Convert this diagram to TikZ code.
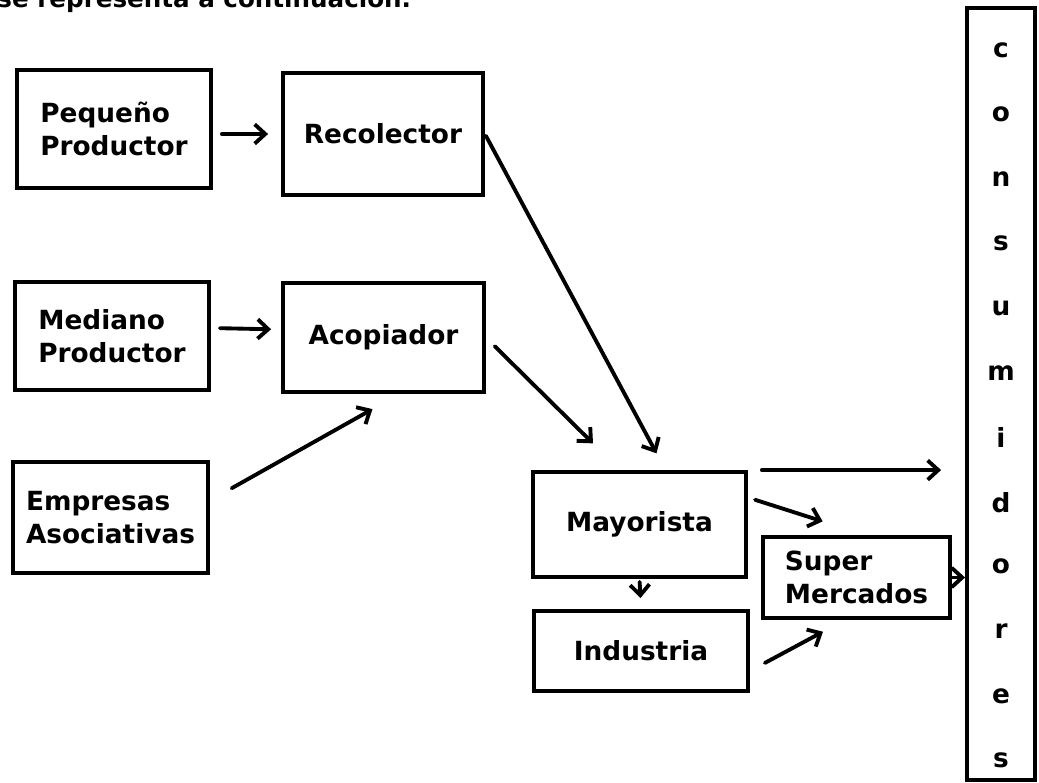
\documentclass[tikz,border=0pt]{standalone}
\usepackage{fontspec}
\setmainfont{DejaVu Sans}
\usetikzlibrary{arrows.meta}

\begin{document}
\begin{tikzpicture}[>={Straight Barb[length=6pt,width=11pt]},x=0.02cm,y=-0.02cm,line width=2.2pt,
    caja/.style={draw,inner sep=0pt,align=left,font=\fontsize{15}{19}\selectfont\bfseries},
    letra/.style={inner sep=0pt,font=\fontsize{15}{19}\selectfont\bfseries},
    flecha/.style={->,line cap=round}]
    \useasboundingbox (0,0) rectangle (1039,783);
    %\draw [color=gray,dash pattern=on 0.7pt off 1pt,step=1cm] (0,0) grid (1039,783);
    \begin{scope}
        \clip (0,0) rectangle (1039,783);
        \node[letra,font=\fontsize{14}{17}\selectfont\bfseries,anchor=base east] (intro) at (413,8) {se representa a continuación.};
    \end{scope}
    \node[caja,minimum width=3.88cm,minimum height=2.36cm] (peq) at (114,129) {Pequeño\\Productor};
    \node[caja,minimum width=4.00cm,minimum height=2.44cm] (rec) at (383,134) {Recolector};
    \node[caja,minimum width=3.88cm,minimum height=2.16cm] (med) at (112,336) {Mediano\\Productor};
    \node[caja,minimum width=4.02cm,minimum height=2.18cm] (aco) at (383.5,337.5) {Acopiador};
    \node[caja,minimum width=3.90cm,minimum height=2.22cm] (emp) at (110.5,517.5) {Empresas\\Asociativas};
    \node[caja,minimum width=4.26cm,minimum height=2.10cm] (may) at (639.5,524.5) {Mayorista};
    \node[caja,minimum width=4.28cm,minimum height=1.60cm] (ind) at (641,651) {Industria};
    \node[caja,minimum width=3.74cm,minimum height=1.62cm] (sup) at (856.5,577.5) {Super\\Mercados};
    \node[caja,minimum width=1.36cm,minimum height=15.44cm] (con) at (1001,394) {};
    \foreach \letra [count=\i from 0] in {c,o,n,s,u,m,i,d,o,r,e,s}
    \node[letra] (l\i) at (1001,{50+64.6*\i}) {\letra};
    \draw[flecha,shorten <=0.18cm,shorten >=0.26cm] (peq.east |- rec.west) -- (rec.west);
    \draw[flecha,shorten <=0.18cm,shorten >=0.2cm] ([yshift=0.16cm]med.east) -- ([yshift=0.16cm]aco.west);
    \draw[flecha,shorten <=0.5cm,shorten >=0.62cm] ([yshift=0.34cm]emp.east) -- ([xshift=0.32cm]aco.south);
    \draw[flecha,shorten <=0.04cm,shorten >=0.38cm] (rec.east) -- ([xshift=0.52cm]may.north);
    \draw[flecha,shorten <=0.25cm,shorten >=0.76cm] (aco.east) -- ([xshift=-0.39cm]may.north);
    \draw[flecha,shorten <=0.28cm,shorten >=0.48cm] (may.north east) -- (may.north east -| con.west);
    \draw[flecha,shorten <=0.15cm,shorten >=0.9cm] ([yshift=0.54cm]may.east) -- ([xshift=0.18cm]sup.north);
    \draw[flecha,shorten <=0.06cm,shorten >=0.22cm] (may.south) -- (ind.north);
    \draw[flecha,shorten <=0.34cm,shorten >=0.5cm] ([yshift=-0.4cm]ind.east) -- ([xshift=-0.23cm]sup.south);
    \draw[flecha] (sup.east) -- (sup.east -| con.west);
\end{tikzpicture}
\end{document}
